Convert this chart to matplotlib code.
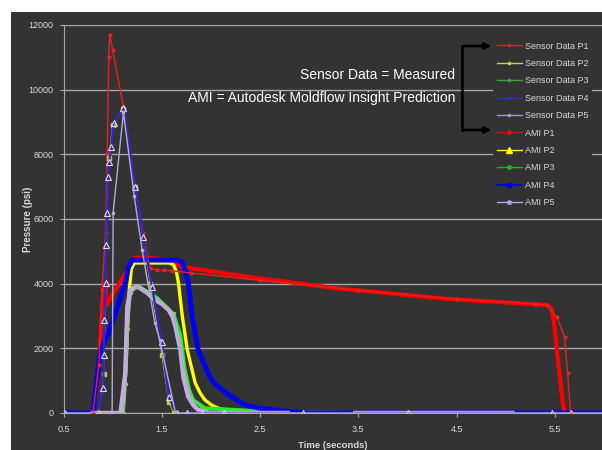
import matplotlib
matplotlib.use('Agg')
import matplotlib.pyplot as plt
import numpy as np
from matplotlib import font_manager
from matplotlib.lines import Line2D
from matplotlib.patches import Rectangle

names = {f.name for f in font_manager.fontManager.ttflist}
narrow = 'Liberation Sans Narrow' if 'Liberation Sans Narrow' in names else 'Liberation Sans'
plt.rcParams['font.family'] = [narrow, 'DejaVu Sans']

# measured sensor data (time in s, pressure in psi)
sensor_p1_t = [0.50, 0.80, 0.86, 0.89, 0.93, 0.945, 0.96, 0.97, 1.00, 1.11, 1.23, 1.31, 1.38, 1.45,
               1.52, 1.60, 1.80, 2.50, 3.50, 4.50, 5.30, 5.42, 5.52, 5.60, 5.63, 5.66, 6.00]
sensor_p1_p = [0, 0, 1500, 3800, 5600, 8000, 11000, 11700, 11230, 9470, 6990, 5570, 4480, 4420,
               4420, 4400, 4330, 4100, 3800, 3520, 3380, 3330, 2970, 2350, 1240, 0, 0]

sensor_p2_t = [0.50, 0.86, 0.91, 0.96, 1.00, 1.11, 1.23, 1.38, 1.50, 1.57, 1.62, 6.00]
sensor_p2_p = [0, 0, 1200, 7900, 8900, 9400, 7000, 4000, 1800, 340, 0, 0]

sensor_p3_t = [0.50, 1.12, 1.14, 1.16, 1.19, 1.25, 1.45, 1.62, 1.72, 1.80, 1.95, 6.00]
sensor_p3_p = [0, 0, 900, 2600, 3700, 3900, 3550, 3100, 1500, 500, 0, 0]

sensor_p4_t = [0.50, 0.85, 0.905, 0.91, 0.915, 0.93, 0.935, 0.945, 0.955, 0.965, 0.985, 1.01, 1.11,
               1.23, 1.31, 1.40, 1.50, 1.57, 1.65, 1.76, 1.91, 2.13, 2.94, 4.01, 5.47, 5.66, 6.00]
sensor_p4_p = [0, 0, 770, 1790, 2870, 4020, 5200, 6190, 7300, 7760, 8240, 8960, 9430,
               7000, 5450, 3900, 2200, 500, 0, 0, 0, 0, 0, 0, 0, 0, 0]

sensor_p5_t = [0.50, 0.995, 1.005, 1.11, 1.22, 1.30, 1.43, 1.48, 1.64, 6.00]
sensor_p5_p = [0, 0, 6200, 9300, 6700, 5040, 2780, 2260, 0, 0]

# Autodesk Moldflow Insight predictions
ami_p1_t = [0.80, 0.84, 0.875, 0.90, 0.93, 0.935, 1.15, 1.18, 1.22, 1.30, 1.50, 1.62, 1.70, 2.50,
            3.30, 4.40, 5.41, 5.44, 5.47, 5.50, 5.53, 5.56, 5.58, 5.60, 6.00]
ami_p1_p = [0, 710, 2260, 3500, 4050, 3340, 4420, 4650, 4790, 4810, 4760, 4650, 4520, 4160,
            3850, 3530, 3340, 3310, 3200, 2600, 1700, 900, 350, 0, 0]

ami_p2_t = [0.80, 1.10, 1.14, 1.17, 1.19, 1.22, 1.58, 1.62, 1.65, 1.67, 1.71, 1.76, 1.84, 1.89,
            1.94, 2.02, 2.12, 2.22, 2.35, 2.50]
ami_p2_p = [0, 0, 1800, 3800, 4450, 4640, 4640, 4580, 4350, 4020, 2970, 1950, 930, 620,
            400, 220, 100, 40, 0, 0]

ami_p3_t = [0.80, 1.09, 1.13, 1.15, 1.18, 1.26, 1.45, 1.62, 1.69, 1.73, 1.78, 1.82, 1.94, 2.28,
            2.60, 3.45]
ami_p3_p = [0, 0, 1240, 3280, 3800, 3920, 3560, 3050, 2400, 1400, 700, 400, 150, 90, 40, 0]

ami_p4_t = [0.50, 0.80, 0.875, 0.96, 1.13, 1.16, 1.20, 1.65, 1.71, 1.74, 1.77, 1.81, 1.87, 1.99,
            2.05, 2.12, 2.20, 2.35, 2.50, 2.63, 2.80, 3.00, 6.00]
ami_p4_p = [0, 0, 1950, 2470, 4020, 4500, 4730, 4730, 4650, 4400, 4020, 2970, 1950, 1110,
            880, 710, 520, 250, 140, 100, 40, 0, 0]

ami_p5_t = [0.80, 1.08, 1.13, 1.15, 1.18, 1.22, 1.26, 1.35, 1.43, 1.50, 1.57, 1.61, 1.64, 1.69,
            1.72, 1.77, 1.82, 1.87, 1.95, 2.00, 2.78, np.nan, 3.47, 5.07]
ami_p5_p = [0, 0, 1240, 3280, 3800, 3880, 3900, 3720, 3500, 3380, 3190, 2980, 2660, 1950,
            1110, 500, 250, 100, 30, 0, 0, np.nan, 0, 0]

legend_labels = ['Sensor Data P1', 'Sensor Data P2', 'Sensor Data P3', 'Sensor Data P4',
                 'Sensor Data P5', 'AMI P1', 'AMI P2', 'AMI P3', 'AMI P4', 'AMI P5']

bg = '#333333'
txt = '#D8D8D8'

fig = plt.figure(figsize=(6.02, 4.5), dpi=100, facecolor='white')
fig.patches.append(Rectangle((11 / 602, 0), 1, 1 - 12 / 450, transform=fig.transFigure,
                             facecolor=bg, edgecolor='none', zorder=-10))

ax = fig.add_axes([63.5 / 602, 37 / 450, 538.5 / 602, 388 / 450])
ax.set_facecolor(bg)

# AMI (thick, dense simulation points)
ax.plot(ami_p1_t, ami_p1_p, color='#FF0000', lw=3.0, zorder=2)
ax.plot(ami_p2_t, ami_p2_p, color='#FFFF00', lw=2.4, zorder=2)
ax.plot(ami_p3_t, ami_p3_p, color='#22EE22', lw=2.8, zorder=2)
ax.plot(ami_p4_t, ami_p4_p, color='#0000F0', lw=3.6, zorder=2)
ax.plot(ami_p5_t, ami_p5_p, color='#C8A8E8', lw=3.2, zorder=2)

# sensors (thin, drawn on top)
ax.plot(sensor_p1_t, sensor_p1_p, color='#E82020', lw=1.0, marker='o', ms=2, zorder=3)
ax.plot(sensor_p2_t, sensor_p2_p, color='#C8C840', lw=0.6, marker='s', ms=3, zorder=3)
ax.plot(sensor_p3_t, sensor_p3_p, color='#90C090', lw=0.7, marker='o', ms=1.5, zorder=3)
ax.plot(sensor_p4_t, sensor_p4_p, color='#2828D0', lw=1.6, marker='^', ms=4.5,
        mfc='none', mec='#E0D8F8', mew=0.8, zorder=3)
ax.plot(sensor_p5_t, sensor_p5_p, color='#B8A8D8', lw=1.0, marker='s', ms=1.5, zorder=3)

ax.set_xlim(0.5, 5.98)
ax.set_ylim(0, 12000)
ax.set_xticks([0.5, 1.5, 2.5, 3.5, 4.5, 5.5])
ax.set_yticks(np.arange(0, 12001, 2000))
ax.yaxis.grid(True, color='#A8A8A8', lw=1.0)
ax.set_axisbelow(True)
for s in ['top', 'right']:
    ax.spines[s].set_visible(False)
for s in ['left', 'bottom']:
    ax.spines[s].set_color('#A8A8A8')
    ax.spines[s].set_linewidth(0.8)
ax.tick_params(colors='#A8A8A8', labelcolor=txt, labelsize=6.5, length=3, pad=4)
ax.tick_params(axis='x', pad=6)

ax.set_ylabel('Pressure (psi)', color=txt, fontsize=7, fontweight='bold')
ax.yaxis.set_label_coords((33 - 63.5) / 538.5, 0.5)
ax.set_xlabel('Time (seconds)', color=txt, fontsize=6.8, fontweight='bold')
ax.xaxis.set_label_coords(0.5, (413 - 441) / 388)

fig.text(455 / 602, 1 - 75 / 450, 'Sensor Data = Measured', color='white', fontsize=10,
         ha='right', va='center')
fig.text(455 / 602, 1 - 98 / 450, 'AMI = Autodesk Moldflow Insight Prediction', color='white',
         fontsize=10, ha='right', va='center')

# bracket with arrows pointing at the two legend groups
fig.add_artist(Line2D([462 / 602, 462 / 602], [1 - 46 / 450, 1 - 130 / 450], color='black', lw=2))
for yy in [46, 130]:
    ax.annotate('', xy=(494 / 602, 1 - yy / 450), xytext=(461 / 602, 1 - yy / 450),
                xycoords='figure fraction', textcoords='figure fraction',
                arrowprops=dict(arrowstyle='-|>', color='black', lw=2, mutation_scale=9))

handles = [
    Line2D([], [], color='#C03030', lw=1, marker='.', ms=3),
    Line2D([], [], color='#D0D040', lw=1, marker='.', ms=3),
    Line2D([], [], color='#40A040', lw=1, marker='.', ms=3),
    Line2D([], [], color='#3030C0', lw=1, marker='.', ms=3),
    Line2D([], [], color='#A898C8', lw=1, marker='.', ms=3),
    Line2D([], [], color='#E01010', lw=1, marker='o', ms=2.5),
    Line2D([], [], color='#FFFF00', lw=1, marker='^', ms=4),
    Line2D([], [], color='#10C010', lw=1, marker='o', ms=2.5),
    Line2D([], [], color='#0000E0', lw=1.2, marker='s', ms=2.5),
    Line2D([], [], color='#B8A0E0', lw=1, marker='*', ms=3.5),
]
fig.legend(handles, legend_labels, loc='upper left', bbox_to_anchor=(493 / 602, 1 - 38 / 450),
           frameon=True, facecolor=bg, edgecolor='none', framealpha=1, fontsize=6.5,
           labelcolor=txt, handlelength=2.8, handletextpad=0.3, labelspacing=0.93,
           borderpad=0.4, borderaxespad=0)

fig.savefig('out.png', dpi=100, facecolor=fig.get_facecolor())
